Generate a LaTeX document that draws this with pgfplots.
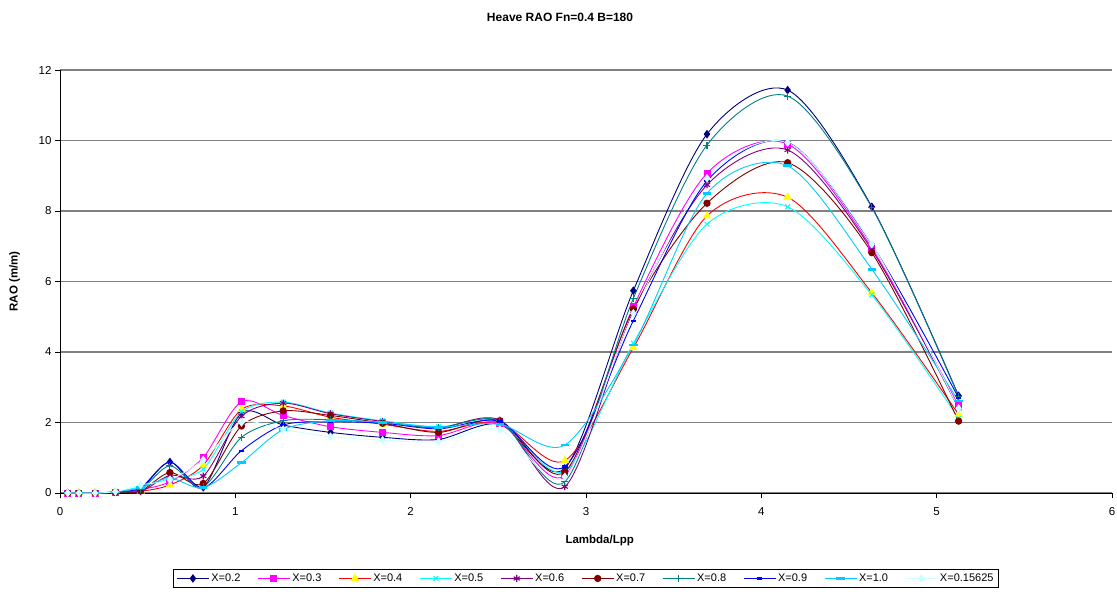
\documentclass[border=0pt]{standalone}
\usepackage{pgfplots}
\pgfplotsset{compat=1.18}
\usepackage{pgfplotstable}
\usepackage{fontspec}
\setmainfont{Liberation Sans}

\definecolor{cA}{HTML}{000080}
\definecolor{cB}{HTML}{FF00FF}
\definecolor{cC}{HTML}{FF0000}
\definecolor{cCm}{HTML}{FFFF00}
\definecolor{cD}{HTML}{00FFFF}
\definecolor{cE}{HTML}{800080}
\definecolor{cF}{HTML}{800000}
\definecolor{cG}{HTML}{008080}
\definecolor{cH}{HTML}{0000FF}
\definecolor{cI}{HTML}{00CCFF}
\definecolor{cJ}{HTML}{CCFFFF}

\pgfplotstableread{
x     a     b     c     d     e     f     g     h     i     j
0.044 0     0     0     0     0     0     0     0     0     0
0.108 0     0     0     0     0     0     0     0     0     0
0.2   0     0     0     0     0     0     0     0     0     0
0.316 0.03  0.03  0.03  0.03  0.02  0.02  0.03  0.03  0.03  0.04
0.46  0.12  0.10  0.05  0.18  0.04  0.06  0.10  0.15  0.15  0.23
0.627 0.88  0.32  0.23  0.40  0.50  0.58  0.77  0.88  0.42  0.38
0.817 0.16  1.01  0.79  0.68  0.48  0.27  0.18  0.15  0.15  0.94
1.035 2.27  2.59  2.37  2.30  2.18  1.90  1.58  1.20  0.86  2.00
1.273 1.93  2.20  2.47  2.58  2.55  2.33  2.05  1.93  1.80  1.80
1.543 1.72  1.88  2.15  2.27  2.25  2.20  2.08  2.02  2.05  1.60
1.84  1.58  1.72  1.95  2.05  2.03  1.98  2.00  1.98  2.00  1.50
2.159 1.52  1.63  1.75  1.88  1.85  1.72  1.85  1.82  1.87  1.46
2.508 1.95  1.98  2.00  2.05  2.07  2.05  2.05  2.03  1.95  1.80
2.879 0.70  0.50  0.92  0.62  0.18  0.60  0.32  0.75  1.36  0.46
3.27  5.74  5.28  4.12  4.25  5.15  5.22  5.52  4.89  4.20  5.10
3.69  10.18 9.07  7.86  7.63  8.74  8.22  9.87  8.85  8.50  8.93
4.15  11.43 9.90  8.39  8.12  9.73  9.37  11.26 9.95  9.28  9.94
4.63  8.12  6.95  5.68  5.62  6.90  6.82  8.10  7.05  6.35  7.06
5.125 2.76  2.47  2.23  2.12  2.40  2.04  2.74  2.70  2.61  2.40
}\data

\begin{document}
\begin{tikzpicture}
\begin{axis}[
  name=ax,
  scale only axis, width=1052pt, height=423pt,
  xmin=0, xmax=6, ymin=0, ymax=12,
  xtick={0,1,2,3,4,5,6}, ytick={0,2,4,6,8,10,12},
  axis lines=left,
  axis line style={-, black, line width=0.9pt},
  tick align=outside, major tick length=5pt,
  tick style={black, line width=0.9pt},
  ymajorgrids, grid style={draw=gray, line width=1.5pt},
  /pgf/number format/assume math mode=true,
  ticklabel style={font=\fontsize{11.5}{13}\selectfont},
  xticklabel style={yshift=-6pt},
  xlabel={Lambda/Lpp}, ylabel={RAO (m/m)},
  label style={font=\bfseries\fontsize{11.5}{13}\selectfont},
  xlabel style={at={(axis description cs:0.513,-0.113)}, anchor=center},
  ylabel style={at={(axis description cs:-0.043,0.5)}, anchor=center},
  legend columns=10,
  legend style={at={(0.5,-0.202)}, anchor=center, draw=black, line width=0.8pt,
    font=\fontsize{11}{13}\selectfont,
    /tikz/every even column/.append style={column sep=15pt}},
  legend image code/.code={\draw[mark repeat=2,mark phase=2] plot coordinates {(0pt,0pt) (16pt,0pt) (32pt,0pt)};},
  every axis plot/.append style={smooth, line width=0.9pt, mark size=3.6pt},
]
\addplot[color=cA, mark=diamond*, mark options={solid, fill=cA}] table[x=x,y=a]{\data};
\addlegendentry{X=0.2}
\addplot[color=cB, mark=square*, mark size=3pt, mark options={solid, fill=cB}] table[x=x,y=b]{\data};
\addlegendentry{X=0.3}
\addplot[color=cC, mark=triangle*, mark size=4pt, mark options={solid, fill=cCm, draw=cCm}] table[x=x,y=c]{\data};
\addlegendentry{X=0.4}
\addplot[color=cD, mark=x, mark size=3.3pt, mark options={solid, line width=1.1pt}] table[x=x,y=d]{\data};
\addlegendentry{X=0.5}
\addplot[color=cE, mark=asterisk, mark size=3.5pt, mark options={solid, line width=1.1pt}] table[x=x,y=e]{\data};
\addlegendentry{X=0.6}
\addplot[color=cF, mark=*, mark size=3.2pt, mark options={solid, fill=cF}] table[x=x,y=f]{\data};
\addlegendentry{X=0.7}
\addplot[color=cG, mark=+, mark size=3.5pt, mark options={solid, line width=1.1pt}] table[x=x,y=g]{\data};
\addlegendentry{X=0.8}
\addplot[color=cH, mark=-, mark size=2.8pt, mark options={solid, line width=2.2pt}] table[x=x,y=h]{\data};
\addlegendentry{X=0.9}
\addplot[color=cI, mark=-, mark size=4.2pt, mark options={solid, line width=2.8pt}] table[x=x,y=i]{\data};
\addlegendentry{X=1.0}
\addplot[color=cJ, mark=diamond*, mark options={solid, fill=cJ}] table[x=x,y=j]{\data};
\addlegendentry{X=0.15625}
\end{axis}
\node[font=\bfseries\fontsize{12}{14}\selectfont] at ([shift={(500pt,53pt)}]ax.north west) {Heave RAO Fn=0.4 B=180};
\pgfresetboundingbox
\path ([shift={(-60pt,-108pt)}]ax.south west) rectangle ([shift={(5pt,70pt)}]ax.north east);
\end{tikzpicture}
\end{document}
